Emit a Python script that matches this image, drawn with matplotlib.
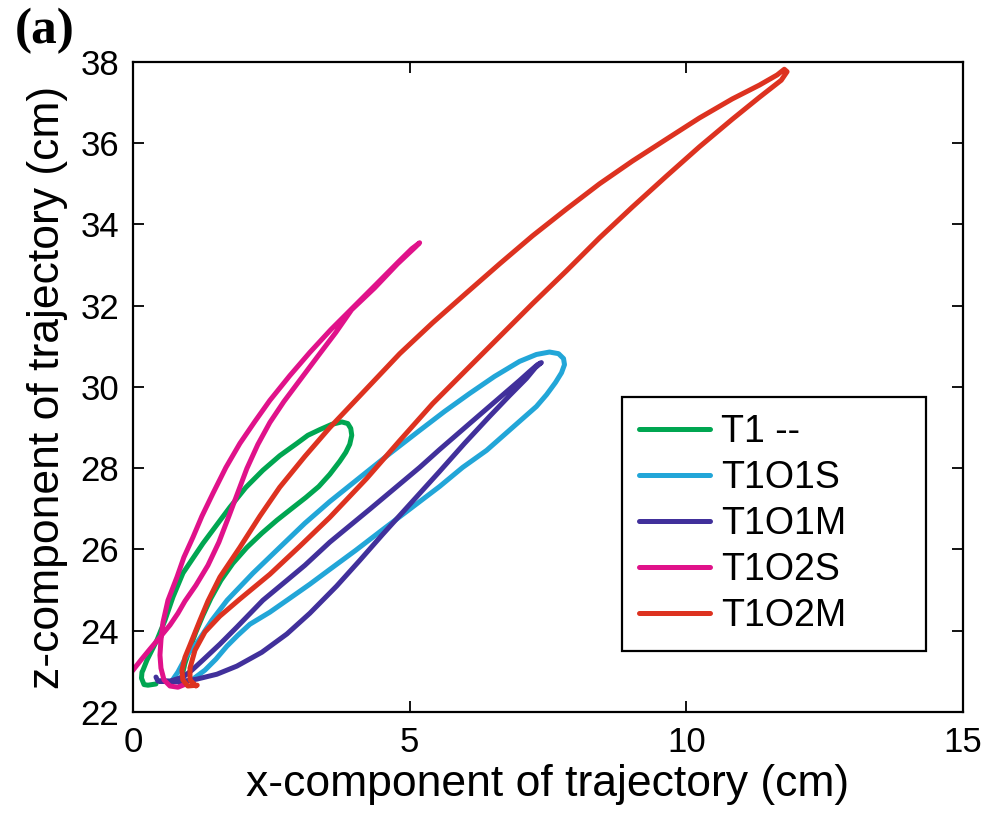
import numpy as np
import matplotlib.pyplot as plt

plt.rcParams['font.family'] = ['Liberation Sans', 'DejaVu Sans']

# trajectories (x, z in cm)
labels = ['T1 --', 'T1O1S', 'T1O1M', 'T1O2S', 'T1O2M']
colors = ['#00a651', '#22a6d8', '#41309b', '#e0128a', '#dd3220']

x_t1 = [0.415, 0.27, 0.199, 0.153, 0.162, 0.18, 0.253, 0.433, 0.578, 0.722, 0.903, 1.264,
        1.751, 2.04, 2.347, 2.653, 2.96, 3.159, 3.375, 3.592, 3.773, 3.881, 3.935, 3.953,
        3.917, 3.845, 3.736, 3.556, 3.357, 3.123, 2.87, 2.60, 2.328, 2.058, 1.805, 1.588,
        1.408, 1.264, 1.137, 1.029, 0.939, 0.884]
z_t1 = [22.69, 22.66, 22.675, 22.835, 22.98, 23.03, 23.28, 23.77, 24.26, 24.83, 25.42, 26.15,
        27.04, 27.53, 27.95, 28.31, 28.61, 28.81, 28.95, 29.08, 29.14, 29.10, 28.98, 28.81,
        28.59, 28.39, 28.17, 27.85, 27.55, 27.28, 27.01, 26.72, 26.40, 26.05, 25.66, 25.24,
        24.80, 24.38, 23.97, 23.57, 23.20, 22.88]

x_o1s = [0.70, 0.81, 0.975, 1.155, 1.426, 1.70, 2.166, 2.65, 3.105, 3.556, 4.097, 4.639,
         5.18, 5.632, 6.083, 6.534, 6.986, 7.29, 7.527, 7.69, 7.78, 7.798, 7.744, 7.635,
         7.473, 7.29, 6.84, 6.39, 5.957, 5.54, 5.018, 4.494, 4.025, 3.556, 3.195, 2.834,
         2.473, 2.112, 1.895, 1.697, 1.498, 1.30, 1.083, 0.848]
z_o1s = [22.76, 22.98, 23.40, 23.70, 24.26, 24.75, 25.415, 26.05, 26.645, 27.18, 27.77, 28.36,
         28.93, 29.40, 29.84, 30.26, 30.63, 30.80, 30.86, 30.82, 30.70, 30.55, 30.35, 30.11,
         29.81, 29.52, 28.98, 28.44, 28.02, 27.55, 27.01, 26.47, 25.98, 25.51, 25.145, 24.80,
         24.457, 24.16, 23.89, 23.62, 23.30, 23.03, 22.81, 22.71]

x_o1m = [0.415, 0.45, 0.578, 0.848, 1.155, 1.516, 1.877, 2.328, 2.78, 3.195, 3.68, 4.097,
         4.51, 5.018, 5.54, 5.99, 6.44, 6.805, 7.11, 7.274, 7.38, 7.31, 7.166, 6.986, 6.083,
         5.54, 5.18, 4.278, 3.556, 3.105, 2.78, 2.347, 1.877, 1.57, 1.264, 1.065, 0.903,
         0.668, 0.487]
z_o1m = [22.86, 22.76, 22.76, 22.74, 22.81, 22.93, 23.13, 23.47, 23.92, 24.43, 25.10, 25.73,
         26.37, 27.135, 27.92, 28.61, 29.27, 29.79, 30.21, 30.48, 30.60, 30.55, 30.38, 30.16,
         29.10, 28.46, 28.02, 26.99, 26.18, 25.61, 25.24, 24.75, 24.09, 23.67, 23.28, 23.03,
         22.86, 22.76, 22.76]

x_o2s = [0.957, 0.812, 0.668, 0.56, 0.505, 0.487, 0.505, 0.542, 0.632, 0.794, 0.92, 1.083,
         1.245, 1.444, 1.679, 1.931, 2.202, 2.473, 2.834, 3.195, 3.574, 3.971, 4.404, 4.819,
         5.036, 5.18, 5.108, 4.78, 4.368, 3.95, 3.664, 3.375, 3.05, 2.726, 2.473, 2.256,
         2.058, 1.895, 1.733, 1.552, 1.354, 1.137, 0.939, 0.812, 0.668, 0.487, 0.307,
         0.144, 0.0, -0.307]
z_o2s = [22.69, 22.61, 22.64, 22.79, 23.08, 23.40, 23.77, 24.21, 24.75, 25.32, 25.81, 26.30,
         26.82, 27.38, 28.02, 28.61, 29.15, 29.67, 30.28, 30.85, 31.41, 31.95, 32.54, 33.11,
         33.40, 33.55, 33.45, 33.03, 32.44, 31.90, 31.34, 30.82, 30.23, 29.64, 29.125, 28.585,
         27.995, 27.405, 26.82, 26.18, 25.61, 25.12, 24.73, 24.43, 24.14, 23.84, 23.55,
         23.28, 23.03, 22.54]

x_o2m = [1.16, 0.99, 0.90, 0.885, 0.94, 1.03, 1.21, 1.354, 1.57, 1.93, 2.292, 2.65, 3.105,
         3.556, 4.188, 4.82, 5.415, 6.03, 6.625, 7.22, 7.834, 8.43, 9.025, 9.64, 10.235,
         10.83, 11.32, 11.64, 11.77, 11.82, 11.715, 11.32, 10.83, 10.235, 9.64, 9.025, 8.43,
         7.834, 7.22, 6.625, 6.03, 5.415, 4.82, 4.224, 3.556, 3.014, 2.473, 1.931, 1.57,
         1.30, 1.12, 1.03, 1.03, 1.137]
z_o2m = [22.66, 22.64, 22.79, 23.03, 23.35, 23.65, 24.26, 24.73, 25.32, 26.05, 26.82, 27.53,
         28.29, 29.00, 29.91, 30.82, 31.58, 32.32, 33.03, 33.72, 34.38, 35.00, 35.56, 36.10,
         36.62, 37.09, 37.43, 37.68, 37.82, 37.76, 37.55, 37.13, 36.59, 35.91, 35.19, 34.43,
         33.67, 32.86, 32.05, 31.24, 30.43, 29.59, 28.68, 27.75, 26.79, 26.08, 25.39, 24.78,
         24.36, 23.97, 23.52, 23.08, 22.79, 22.64]

xs = [x_t1, x_o1s, x_o1m, x_o2s, x_o2m]
zs = [z_t1, z_o1s, z_o1m, z_o2s, z_o2m]

fig = plt.figure(figsize=(9.86, 8.26), dpi=100)
ax = fig.add_axes([0.1349, 0.138, 0.8418, 0.787])

for x, z, c, lab in zip(xs, zs, colors, labels):
    ax.plot(x, z, color=c, lw=3.6, label=lab,
            solid_capstyle='round', solid_joinstyle='round')

ax.set_xlim(0, 15)
ax.set_ylim(22, 38)
ax.set_xticks([0, 5, 10, 15])
ax.set_yticks(np.arange(22, 39, 2))
ax.tick_params(direction='in', length=8, width=1.3, top=True, right=True,
               labelsize=25, pad=10)
for s in ax.spines.values():
    s.set_linewidth(1.6)

ax.set_xlabel('x-component of trajectory (cm)', fontsize=32, labelpad=4)
ax.set_ylabel('z-component of trajectory (cm)', fontsize=32, labelpad=9)

leg = ax.legend(loc='upper left', bbox_to_anchor=(0.589, 0.1092, 0.366, 0.3754),
                mode='expand', fontsize=27, handlelength=1.9, handletextpad=0.3,
                labelspacing=0.27, borderpad=0.45, borderaxespad=0,
                fancybox=False, framealpha=1)
leg.get_frame().set_edgecolor('black')
leg.get_frame().set_linewidth(1.6)
for h in leg.get_lines():
    h.set_linewidth(3.6)

fig.text(0.015, 0.99, '(a)', fontsize=37, fontweight='bold',
         family='Liberation Serif', va='top', ha='left')

fig.savefig('out.png', dpi=100)
